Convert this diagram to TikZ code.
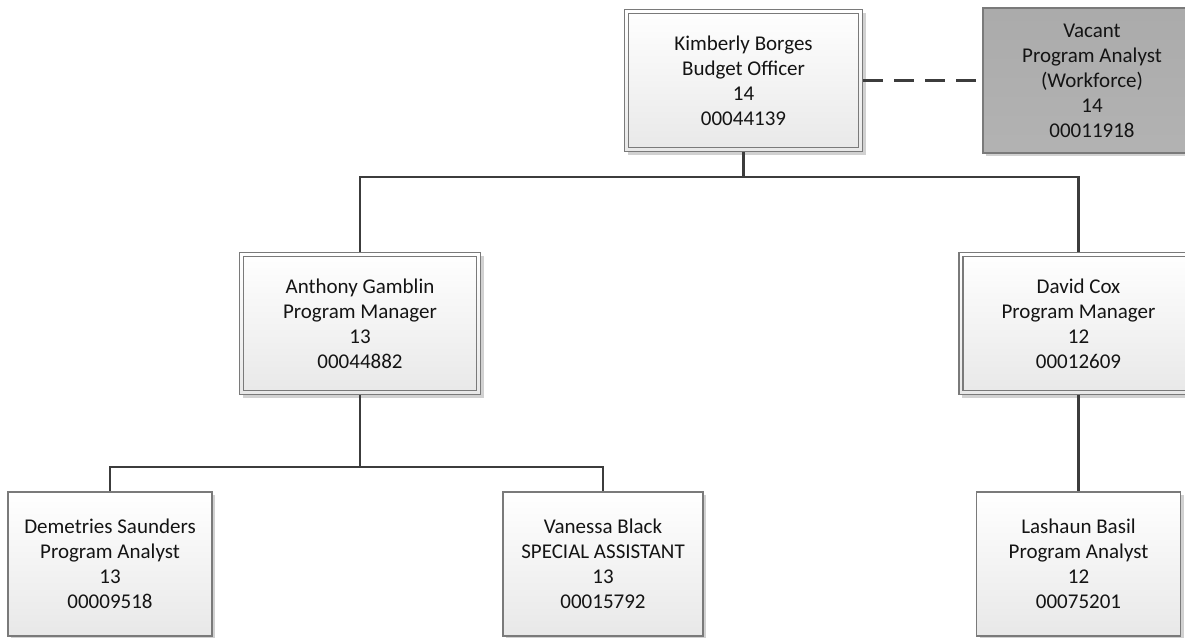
\documentclass[tikz,border=0pt]{standalone}
\usepackage{fontspec}
\setmainfont{Carlito}
\usetikzlibrary{shadows}
\definecolor{linec}{HTML}{3C3C3C}
\definecolor{boxborder}{HTML}{7A7A7A}
\definecolor{txt}{HTML}{141414}
\tikzset{
  card/.style={rectangle, draw=boxborder, line width=1.1pt, top color=white, bottom color=black!9,
    text=txt, align=center, font=\fontsize{21}{25}\selectfont, inner sep=0pt,
    drop shadow={shadow xshift=3pt, shadow yshift=-3pt, fill=black!18, opacity=1}},
  mgr/.style={card, path picture={\draw[boxborder, line width=1.1pt]
      ([shift={(4pt,4pt)}]path picture bounding box.south west) rectangle
      ([shift={(-4pt,-4pt)}]path picture bounding box.north east);}},
  vac/.style={card, top color=black!33, bottom color=black!30},
  conn/.style={draw=linec, line width=2.8pt},
  dashconn/.style={conn, dash pattern=on 20pt off 11pt}
}
\begin{document}
\begin{tikzpicture}[x=1pt,y=-1pt]
\useasboundingbox (0,0) rectangle (1185,637);
\node[mgr, minimum width=238pt, minimum height=142pt] (kb) at (743.5,80.5)
  {Kimberly Borges\\Budget Officer\\14\\00044139};
\node[vac, minimum width=218pt, minimum height=145pt] (vac) at (1092,80.5)
  {Vacant\\Program Analyst\\(Workforce)\\14\\00011918};
\node[mgr, minimum width=241pt, minimum height=142pt] (ag) at (360,323.5)
  {Anthony Gamblin\\Program Manager\\13\\00044882};
\node[mgr, minimum width=239pt, minimum height=142pt] (dc) at (1078.5,323.5)
  {David Cox\\Program Manager\\12\\00012609};
\node[card, minimum width=204pt, minimum height=144pt] (ds) at (110,564)
  {Demetries Saunders\\Program Analyst\\13\\00009518};
\node[card, minimum width=200pt, minimum height=144pt] (vb) at (603,564)
  {Vanessa Black\\SPECIAL ASSISTANT\\13\\00015792};
\node[card, minimum width=204pt, minimum height=144pt] (lb) at (1078.5,564)
  {Lashaun Basil\\Program Analyst\\12\\00075201};
\coordinate (bus1) at (743.5,177);
\coordinate (bus2) at (360,467);
\draw[conn] (kb.south) -- (bus1);
\draw[conn] (bus1) -| (ag.north);
\draw[conn] (bus1) -| (dc.north);
\draw[conn] (ag.south) -- (bus2);
\draw[conn] (bus2) -| (ds.north);
\draw[conn] (bus2) -| (vb.north);
\draw[conn] (dc.south) -- (lb.north);
\draw[dashconn] (kb.east) -- (vac.west);
\end{tikzpicture}
\end{document}
